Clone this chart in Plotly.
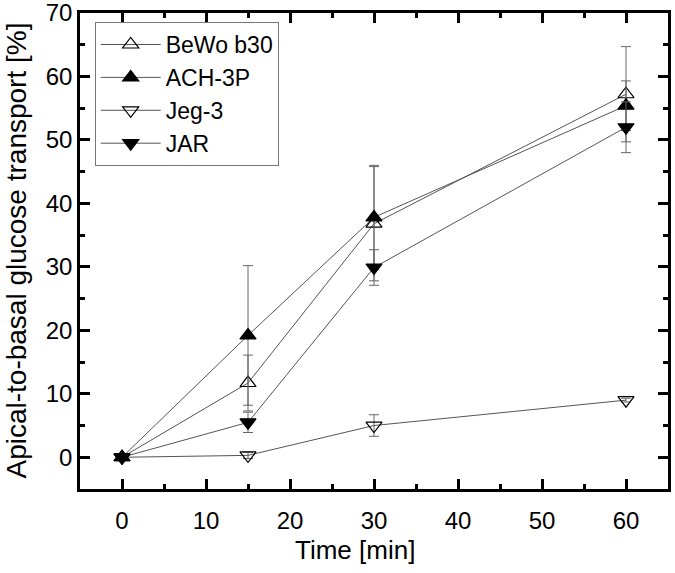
import plotly.graph_objects as go

time_min = [0, 15, 30, 60]

bewo_vals = [0, 11.7, 36.8, 57.2]
bewo_err = [0, 4.4, 9.0, 7.5]

ach_vals = [0, 19.2, 37.8, 55.4]
ach_err = [0, 11.0, 8.2, 3.9]

jeg_vals = [0, 0.3, 5.0, 9.0]
jeg_err = [0, 0.5, 1.7, 0.3]

jar_vals = [0, 5.5, 29.9, 52.0]
jar_err = [0, 1.6, 2.8, 4.0]

series = [
    ("BeWo b30", bewo_vals, bewo_err, "triangle-up-open"),
    ("ACH-3P", ach_vals, ach_err, "triangle-up"),
    ("Jeg-3", jeg_vals, jeg_err, "triangle-down-open"),
    ("JAR", jar_vals, jar_err, "triangle-down"),
]

fig = go.Figure()
for name, vals, err, sym in series:
    fig.add_trace(go.Scatter(
        x=time_min, y=vals, name=name, mode="lines+markers",
        line=dict(color="#555555", width=1),
        marker=dict(symbol=sym, size=14, color="black",
                    line=dict(color="black", width=1.2)),
        error_y=dict(type="data", array=err, visible=True,
                     color="#666666", thickness=1, width=5),
    ))

font_family = "Liberation Sans, Arial, sans-serif"
axis_common = dict(
    showline=True, linecolor="black", linewidth=2.5, mirror="allticks",
    ticks="inside", ticklen=10, tickwidth=2.5, tickcolor="black",
    showgrid=False, zeroline=False, automargin=False,
    ticklabeloverflow="allow",
    tickfont=dict(family=font_family, size=24, color="black"),
    minor=dict(ticks="inside", ticklen=5, tickwidth=2.5, tickcolor="black", dtick=5, showgrid=False),
)

fig.update_layout(
    width=675, height=573,
    paper_bgcolor="white", plot_bgcolor="white",
    margin=dict(l=80, r=7, t=13, b=84),
    font=dict(family=font_family, color="black"),
    xaxis=dict(range=[-5, 65], dtick=10, tick0=0, ticklabelstandoff=8, **axis_common),
    yaxis=dict(range=[-5, 70], dtick=10, tick0=0, **axis_common),
    legend=dict(x=0.025, y=0.981, xanchor="left", yanchor="top",
                bgcolor="white", bordercolor="#777777", borderwidth=1,
                font=dict(size=23, family=font_family), tracegroupgap=0,
                itemwidth=60),
    showlegend=True,
    annotations=[
        dict(text="Time [min]", xref="paper", yref="paper", x=0.468, y=-0.128,
             xanchor="center", yanchor="middle", showarrow=False,
             font=dict(size=26, family=font_family, color="black")),
        dict(text="Apical-to-basal glucose transport [%]", xref="paper", yref="paper",
             x=-0.108, y=0.502, textangle=-90, xanchor="center", yanchor="middle",
             showarrow=False, font=dict(size=28, family=font_family, color="black")),
    ],
)

fig.write_html("out.html", config={"displayModeBar": False},
               post_script="document.body.style.margin='0';document.body.style.padding='0';")
